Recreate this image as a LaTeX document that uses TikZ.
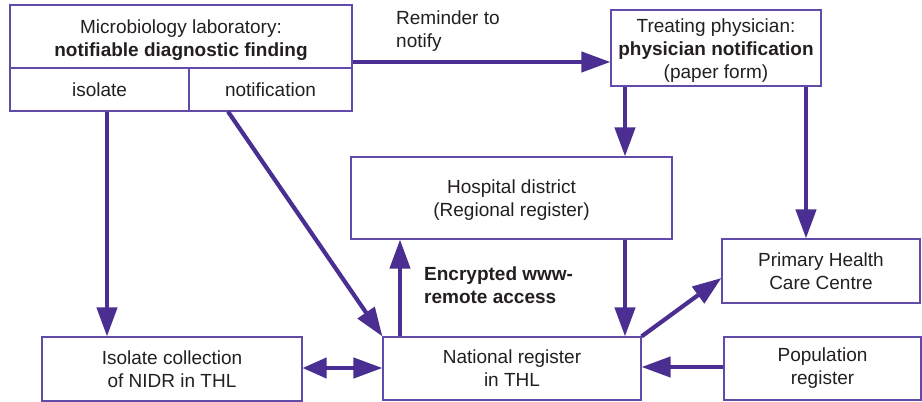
\documentclass[tikz,border=0pt]{standalone}
\usepackage{fontspec}
\setmainfont{Liberation Sans}
\usetikzlibrary{arrows.meta,calc}
\definecolor{arrc}{RGB}{74,46,145}
\definecolor{boxc}{RGB}{96,76,168}
\definecolor{txtc}{RGB}{35,31,32}
\tikzset{
  box/.style={draw=boxc, line width=1.1pt, rectangle, inner sep=0pt, align=center, text=txtc,
    font=\fontsize{19}{23}\selectfont},
  lbl/.style={text=txtc, align=left, inner sep=0pt, font=\fontsize{19}{23}\selectfont},
  arr/.style={draw=arrc, line width=4.2pt, -{Triangle[length=29pt,width=20pt]}},
  darr/.style={draw=arrc, line width=4.2pt, {Triangle[length=24pt,width=20pt]}-{Triangle[length=29pt,width=20pt]}},
}
\begin{document}
\begin{tikzpicture}[x=1pt,y=-1pt]
\useasboundingbox (0,0) rectangle (922,402);
% Microbiology laboratory
\node[box, minimum width=342pt, minimum height=63pt] (lab) at (181,36.5) {};
\node[text=txtc, align=center, inner sep=0pt, font=\fontsize{19}{23}\selectfont] (labt) at (181,40)
  {Microbiology laboratory:\\\textbf{notifiable diagnostic finding}};
\node[box, minimum width=179pt, minimum height=43pt] (iso) at (99.5,89.5) {isolate};
\node[box, minimum width=163pt, minimum height=43pt] (notif) at (270.5,89.5) {notification};
% others
\node[box, minimum width=210pt, minimum height=76pt] (treat) at (716,48) {};
\node[text=txtc, align=center, inner sep=0pt, font=\fontsize{19}{23}\selectfont] (treatt) at (716,51)
  {Treating physician:\\\textbf{physician notification}\\(paper form)};
\node[box, minimum width=321pt, minimum height=82pt] (hosp) at (511.5,198) {};
\node[text=txtc, align=center, inner sep=0pt, font=\fontsize{19}{23}\selectfont] (hospt) at (511.5,200)
  {Hospital district\\(Regional register)};
\node[box, minimum width=258pt, minimum height=63pt] (nat) at (512,368.5)
  {National register\\in THL};
\node[box, minimum width=260pt, minimum height=64pt] (icol) at (172,369)
  {Isolate collection\\of NIDR in THL};
\node[box, minimum width=198pt, minimum height=64pt] (phc) at (821,271)
  {Primary Health\\Care Centre};
\node[box, minimum width=197pt, minimum height=63pt] (pop) at (822.5,368.5)
  {Population\\register};
% labels
\node[lbl, anchor=north west] (rem) at (396,11) {Reminder to\\notify};
\node[lbl, anchor=north west, font=\fontsize{19}{23}\selectfont\bfseries] (enc) at (424,267) {Encrypted www-\\remote access};
% arrows
\draw[arr] (lab.east |- 0,62) -- (treat.west |- 0,62);
\draw[arr] (treat.south -| 625,0) -- (hosp.north -| 625,0);
\draw[arr] (treat.south -| 806,0) -- (phc.north -| 806,0);
\draw[arr] (iso.south -| 107,0) -- (icol.north -| 107,0);
\draw[arr] (notif.south -| 228,0) -- (nat.north west);
\draw[arr] (nat.north -| 400,0) -- (hosp.south -| 400,0);
\draw[arr] (hosp.south -| 625,0) -- (nat.north -| 625,0);
\draw[arr] (nat.north east) -- (phc.west |- 0,278);
\draw[arr] (pop.west |- 0,367) -- (nat.east |- 0,367);
\draw[darr] (icol.east |- 0,368) -- (nat.west |- 0,368);
\end{tikzpicture}
\end{document}
